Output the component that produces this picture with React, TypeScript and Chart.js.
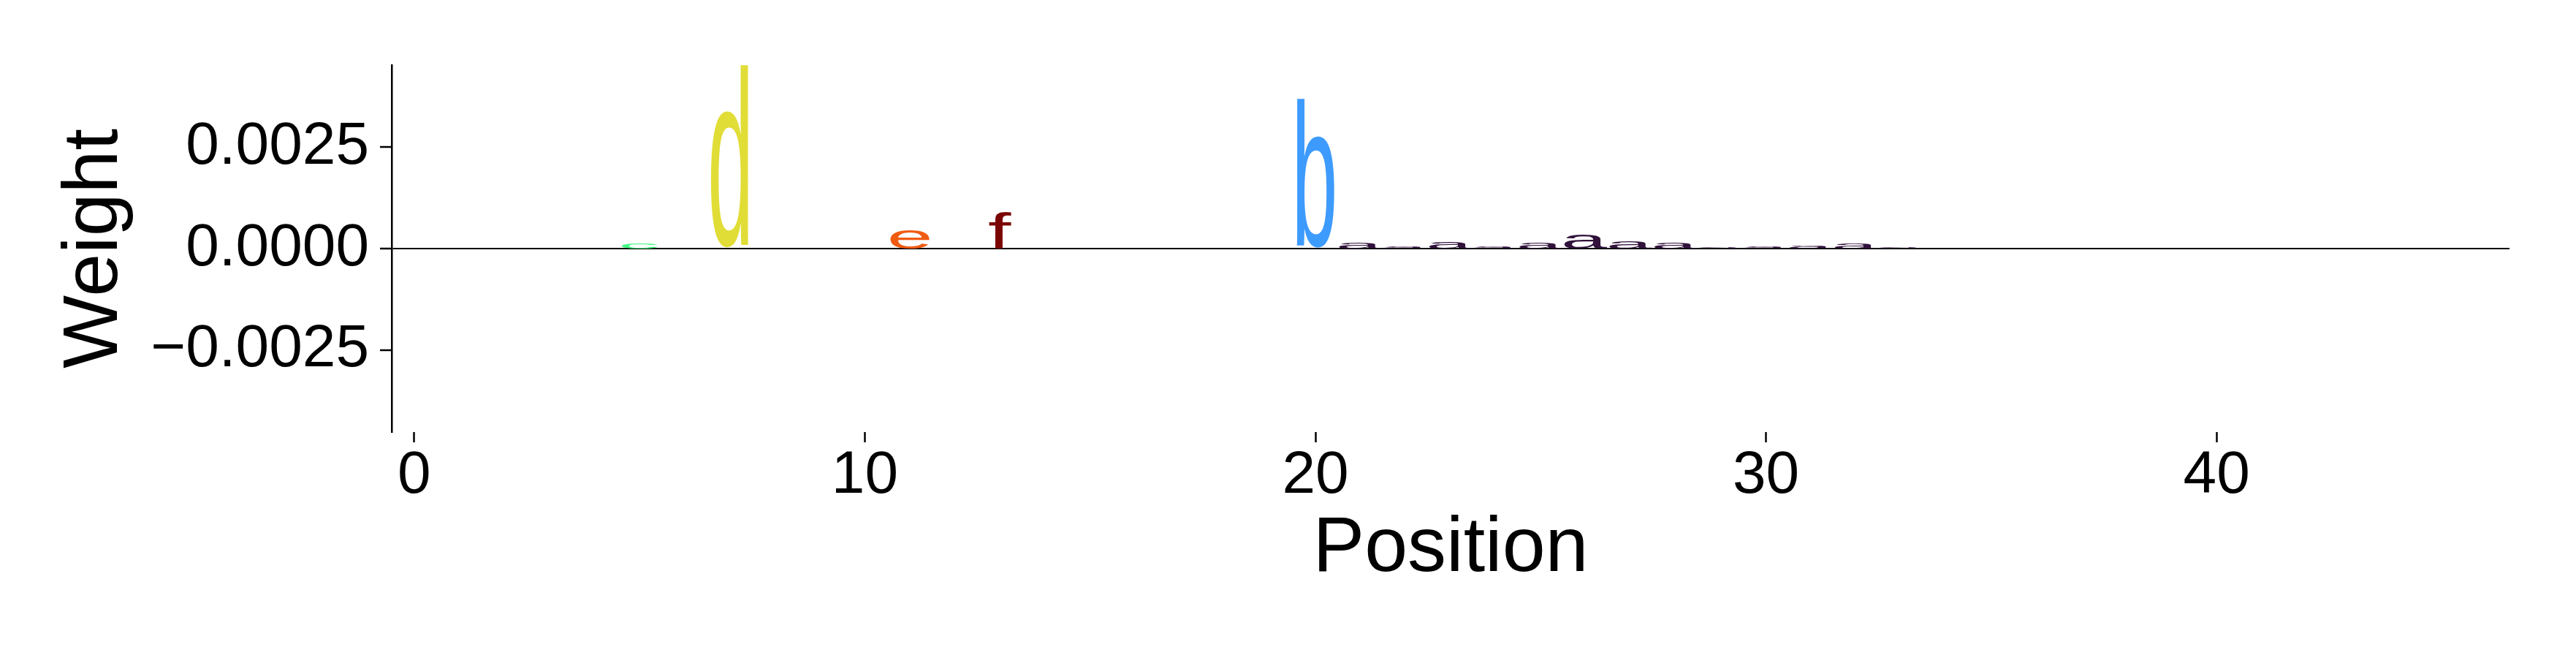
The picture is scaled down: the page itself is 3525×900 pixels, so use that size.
import React, { useRef, useEffect } from 'react';
import { Chart, registerables } from 'chart.js';

Chart.register(...registerables);

// One glyph per position; glyph height is the weight at that position
const positions = [5, 7, 11, 13, 20, 21, 22, 23, 24, 25, 26, 27, 28, 29, 30, 31, 32, 33];
const letters = ['c', 'd', 'e', 'f', 'b', 'a', 'a', 'a', 'a', 'a', 'a', 'a', 'a', 'a', 'a', 'a', 'a', 'a'];
const weights = [
  0.00012, 0.00452, 0.00046, 0.0009, 0.00369, 0.00015, 0.00006, 0.00017, 0.00005,
  0.00015, 0.00034, 0.00018, 0.00015, 0.00003, 0.00006, 0.00008, 0.00013, 0.00004,
];
const xTicks = [0, 10, 20, 30, 40];
const yTicks = [-0.0025, 0, 0.0025];
const positionRange = [-0.5, 46.5];

// turbo colours, one per character
const letterColors: Record<string, string> = {
  a: '#30123b',
  b: '#3e9bfe',
  c: '#46f884',
  d: '#e1dd37',
  e: '#f05b12',
  f: '#7a0403',
};

const FONT = '"Liberation Sans", Arial, Helvetica, sans-serif';

// draws each letter stretched into its box (width 1 position, height = weight),
// never stretched wider than an "E" would be
const logoPlugin = {
  id: 'logoGlyphs',
  afterDatasetsDraw(chart: Chart) {
    const { ctx } = chart;
    const xs = chart.scales.x;
    const ys = chart.scales.y;
    ctx.save();
    ctx.font = `200px ${FONT}`;
    ctx.textAlign = 'left';
    ctx.textBaseline = 'alphabetic';
    const ref = ctx.measureText('E');
    const refW = ref.actualBoundingBoxLeft + ref.actualBoundingBoxRight;

    positions.forEach((p, i) => {
      const ch = letters[i];
      const m = ctx.measureText(ch);
      const inkW = m.actualBoundingBoxLeft + m.actualBoundingBoxRight;
      const inkH = m.actualBoundingBoxAscent + m.actualBoundingBoxDescent;
      const left = xs.getPixelForValue(p - 0.5);
      const right = xs.getPixelForValue(p + 0.5);
      const top = ys.getPixelForValue(weights[i]);
      const base = ys.getPixelForValue(0);
      const boxW = right - left;
      const sx = Math.min(boxW / inkW, boxW / refW);
      const sy = (base - top) / inkH;
      const shift = (boxW - inkW * sx) / 2;

      ctx.save();
      ctx.translate(left + shift, top);
      ctx.scale(sx, sy);
      ctx.fillStyle = letterColors[ch];
      ctx.fillText(ch, m.actualBoundingBoxLeft, m.actualBoundingBoxAscent);
      ctx.restore();
    });
    ctx.restore();
  },
};

const formatWeight = (v: number) => (v < 0 ? '\u2212' : '') + Math.abs(v).toFixed(4);

const App: React.FC = () => {
  const chartRef = useRef<HTMLCanvasElement>(null);
  const chartInstance = useRef<Chart | null>(null);

  useEffect(() => {
    if (!chartRef.current) return;
    if (chartInstance.current) {
      chartInstance.current.destroy();
    }
    const ctx = chartRef.current.getContext('2d');
    if (!ctx) return;

    const yLim = Math.max(...weights.map(Math.abs));

    chartInstance.current = new Chart(ctx, {
      type: 'scatter',
      data: {
        datasets: [
          {
            data: positions.map((p, i) => ({ x: p, y: weights[i] })),
            pointRadius: 0,
            showLine: false,
          },
        ],
      },
      options: {
        animation: false,
        responsive: true,
        maintainAspectRatio: false,
        layout: { padding: { left: 0, top: 89, right: 91, bottom: 0 } },
        plugins: {
          legend: { display: false },
          tooltip: { enabled: false },
        },
        scales: {
          x: {
            type: 'linear',
            min: positionRange[0],
            max: positionRange[1],
            afterBuildTicks: (scale: any) => {
              scale.ticks = xTicks.map((v) => ({ value: v }));
            },
            afterFit: (scale: any) => {
              scale.height = 309;
            },
            border: { display: false },
            grid: {
              drawOnChartArea: false,
              drawTicks: true,
              tickLength: 14,
              tickColor: '#000',
              tickWidth: 2.5,
            },
            ticks: {
              color: '#000',
              font: { family: FONT, size: 82, lineHeight: 1.1 },
              padding: 1,
              maxRotation: 0,
              autoSkip: false,
              callback: (v: any) => String(v),
            },
            title: {
              display: true,
              text: 'Position',
              color: '#000',
              font: { family: FONT, size: 106, lineHeight: 1.2 },
              padding: { top: 0, bottom: 85 },
            },
          },
          y: {
            type: 'linear',
            min: -yLim,
            max: yLim,
            afterBuildTicks: (scale: any) => {
              scale.ticks = yTicks.map((v) => ({ value: v }));
            },
            afterFit: (scale: any) => {
              scale.width = 536;
            },
            border: { display: true, color: '#000', width: 2.5 },
            grid: {
              drawOnChartArea: true,
              color: (c: any) => (c.tick && c.tick.value === 0 ? '#000' : 'rgba(0,0,0,0)'),
              lineWidth: 2,
              drawTicks: true,
              tickLength: 16,
              tickColor: '#000',
              tickWidth: 2.5,
            },
            ticks: {
              color: '#000',
              font: { family: FONT, size: 82 },
              padding: 15,
              callback: (v: any) => formatWeight(Number(v)),
            },
            title: {
              display: true,
              text: 'Weight',
              color: '#000',
              font: { family: FONT, size: 106, lineHeight: 1.2 },
              padding: { top: 67, bottom: 0 },
            },
          },
        },
      },
      plugins: [logoPlugin],
    });

    return () => {
      if (chartInstance.current) {
        chartInstance.current.destroy();
        chartInstance.current = null;
      }
    };
  }, []);

  return (
    <div style={{ position: 'fixed', left: 0, top: 0, width: 3525, height: 900, background: '#fff' }}>
      <canvas ref={chartRef} />
    </div>
  );
};

export default App;
